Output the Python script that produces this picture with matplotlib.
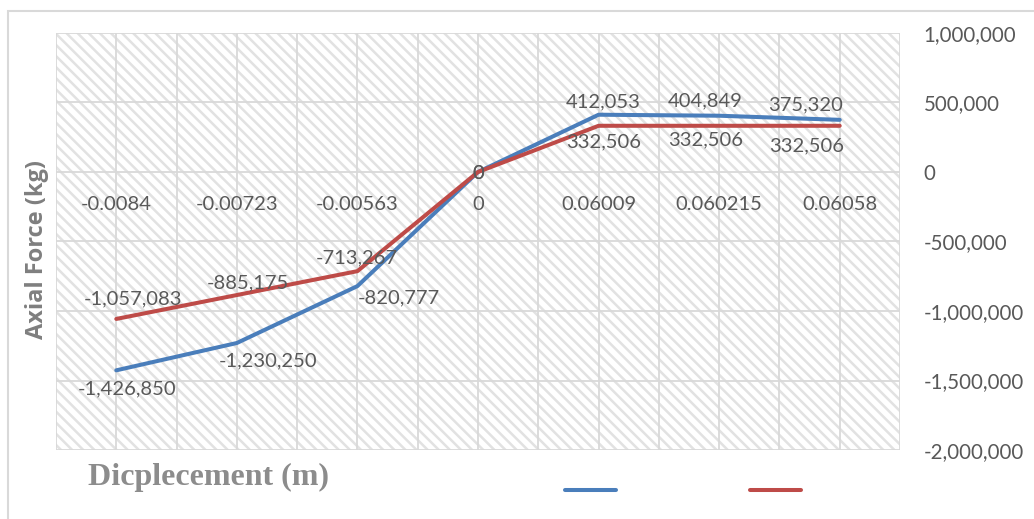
import matplotlib.pyplot as plt
from matplotlib.patches import Rectangle
from matplotlib.lines import Line2D
from matplotlib.ticker import FuncFormatter, MultipleLocator

categories = ["-0.0084", "-0.00723", "-0.00563", "0", "0.06009", "0.060215", "0.06058"]
blue_values = [-1426850, -1230250, -820777, 0, 412053, 404849, 375320]
red_values = [-1057083, -885175, -713267, 0, 332506, 332506, 332506]

# label offsets in pixels (dx right, dy down)
blue_offsets = [(11, 19), (31, 18), (41, 12), (0, 2), (5, -13), (-14, -15), (-34, -15)]
red_offsets = [(17, -20), (11, -12), (-1, -13), (0, 2), (5, 16), (-14, 14), (-33, 20)]

BLUE = "#4A7EBB"
RED = "#BE4B48"
TEXT = "#595959"
GRID = "#D9D9D9"

plt.rcParams["font.family"] = ["Lato", "DejaVu Sans"]
plt.rcParams["hatch.linewidth"] = 1.8
plt.rcParams["hatch.color"] = "#E2E2E2"

fig = plt.figure(figsize=(10.34, 5.19), dpi=100)
ax = fig.add_axes([56 / 1034, 1 - 450 / 519, 844 / 1034, 417 / 519])

# outer chart border
fig.add_artist(Rectangle((8 / 1034, -0.1), 1.2, 1.1 - 11 / 519, transform=fig.transFigure,
                         fill=False, edgecolor="#D9D9D9", linewidth=1.5))

# hatched plot area
ax.add_patch(Rectangle((0, 0), 1, 1, transform=ax.transAxes, facecolor="white",
                       edgecolor="#E2E2E2", hatch="\\\\\\", linewidth=0, zorder=0))

x = list(range(len(categories)))
ax.plot(x, blue_values, color=BLUE, linewidth=2.9, solid_capstyle="round", zorder=3)
ax.plot(x, red_values, color=RED, linewidth=2.9, solid_capstyle="round", zorder=3)

for values, offsets in [(blue_values, blue_offsets), (red_values, red_offsets)]:
    for xi, v, (dx, dy) in zip(x, values, offsets):
        ax.annotate(f"{v:,}", (xi, v), xytext=(dx * 0.72, -dy * 0.72), textcoords="offset points",
                    ha="center", va="center", fontsize=14.5, color=TEXT, zorder=4)

ax.set_xlim(-0.5, 6.5)
ax.set_ylim(-2000000, 1000000)
ax.yaxis.set_major_locator(MultipleLocator(500000))
ax.yaxis.set_major_formatter(FuncFormatter(lambda v, p: f"{int(v):,}"))
ax.yaxis.tick_right()
ax.tick_params(axis="y", length=0, pad=17, labelsize=14.8, labelcolor=TEXT)

ax.set_xticks(x)
ax.set_xticks([i - 0.5 for i in range(len(categories) + 1)], minor=True)
ax.set_xticklabels(categories)
ax.spines["bottom"].set_position(("data", 0))
ax.tick_params(axis="x", which="both", length=0, pad=17, labelsize=14.5, labelcolor=TEXT)

ax.grid(True, which="both", color=GRID, linewidth=1.3, zorder=1)
ax.set_axisbelow(True)
for s in ax.spines.values():
    s.set_visible(False)

fig.text(37 / 1034, 1 - 250 / 519, "Axial Force (kg)", rotation=90, ha="center", va="center",
         fontsize=17, fontweight="bold", color="#7F7F7F", family=["Open Sans", "DejaVu Sans"])
fig.text(209 / 1034, 1 - 477 / 519, "Dicplecement (m)", ha="center", va="center",
         fontsize=23, fontweight="bold", color="#8C8C8C", family="Liberation Serif")

handles = [Line2D([], [], color=BLUE, linewidth=2.9, solid_capstyle="round"),
           Line2D([], [], color=RED, linewidth=2.9, solid_capstyle="round")]
fig.legend(handles, ["", ""], ncol=2, loc="center", bbox_to_anchor=(683 / 1034, 1 - 491 / 519),
           frameon=False, handlelength=2.6, handletextpad=0, columnspacing=6.9, fontsize=14)

fig.savefig("out.png", dpi=100)
